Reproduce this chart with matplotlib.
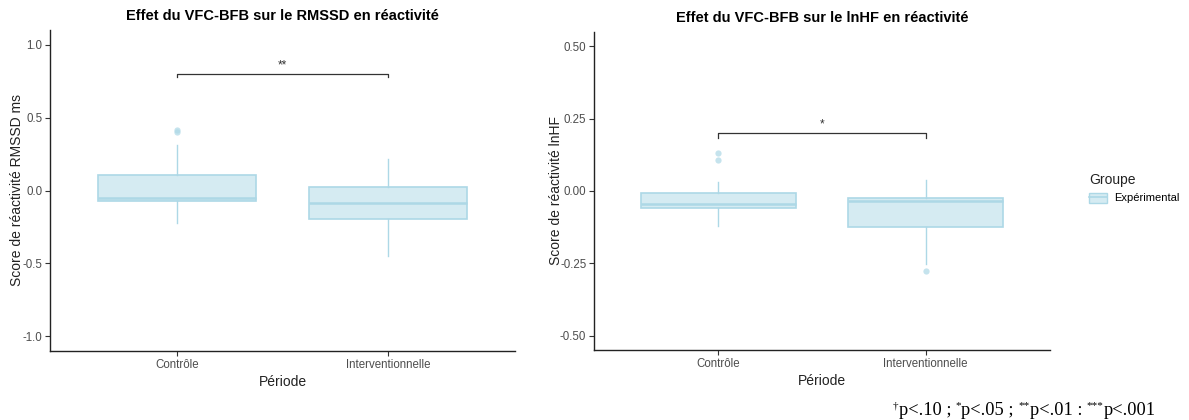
import matplotlib
matplotlib.use("Agg")
import matplotlib.pyplot as plt
from matplotlib.patches import Patch
from matplotlib.lines import Line2D

plt.rcParams['font.family'] = ['Liberation Sans', 'DejaVu Sans']

# ---- data ----
periods = ["Contrôle", "Interventionnelle"]

rmssd_q1 = [-0.075, -0.194]
rmssd_med = [-0.048, -0.087]
rmssd_q3 = [0.107, 0.023]
rmssd_lo = [-0.22, -0.45]
rmssd_hi = [0.315, 0.217]
rmssd_out = [[0.415, 0.40], []]

lnhf_q1 = [-0.058, -0.124]
lnhf_med = [-0.047, -0.034]
lnhf_q3 = [-0.009, -0.024]
lnhf_lo = [-0.121, -0.252]
lnhf_hi = [0.031, 0.037]
lnhf_out = [[0.132, 0.108], [-0.277]]

rmssd_bracket = 0.80
lnhf_bracket = 0.20
rmssd_sig = "**"
lnhf_sig = "*"

fill = '#ADD8E6'
edge = '#ADD8E6'

fig = plt.figure(figsize=(11.89, 4.20), dpi=100)
axL = fig.add_axes([50/1189, 69/420, 465/1189, 321/420])
axR = fig.add_axes([594/1189, 70/420, 456/1189, 318.3/420])


def draw(ax, q1, med, q3, lo, hi, out, ylim, yticks, ytl, title, ylabel, br, sig, tipfrac, lpad):
    stats = []
    for i in range(len(periods)):
        stats.append(dict(med=med[i], q1=q1[i], q3=q3[i], whislo=lo[i], whishi=hi[i], fliers=out[i]))
    ax.bxp(stats, positions=[1, 2], widths=0.75, patch_artist=True, showcaps=False,
           boxprops=dict(facecolor=(0.678, 0.847, 0.902, 0.5), edgecolor=edge, linewidth=1.2),
           medianprops=dict(color=edge, linewidth=1.8),
           whiskerprops=dict(color=edge, linewidth=1.0),
           flierprops=dict(marker='o', markersize=4.5, markerfacecolor=fill, markeredgecolor='none', alpha=0.7))
    ax.set_xlim(0.4, 2.6)
    ax.set_ylim(*ylim)
    ax.set_xticks([1, 2])
    ax.set_xticklabels(periods)
    ax.set_yticks(yticks)
    ax.set_yticklabels(ytl)
    for s in ['top', 'right']:
        ax.spines[s].set_visible(False)
    for s in ['left', 'bottom']:
        ax.spines[s].set_linewidth(1.0)
        ax.spines[s].set_color('#222222')
    ax.tick_params(axis='both', length=3.5, width=0.8, color='#333333', labelcolor='#4d4d4d',
                   labelsize=8.3, pad=2)
    ax.set_title(title, fontsize=10.5, fontweight='bold', pad=7)
    ax.set_xlabel("Période", fontsize=10, color='#222222', labelpad=3)
    ax.set_ylabel(ylabel, fontsize=10, color='#222222', labelpad=lpad)
    tip = (ylim[1] - ylim[0]) * tipfrac
    ax.plot([1, 1, 2, 2], [br - tip, br, br, br - tip], color='#333333', linewidth=0.9)
    ax.text(1.5, br + tip * 0.6, sig, ha='center', va='bottom', fontsize=8.5, color='#333333')


draw(axL, rmssd_q1, rmssd_med, rmssd_q3, rmssd_lo, rmssd_hi, rmssd_out, (-1.1, 1.1),
     [-1.0, -0.5, 0.0, 0.5, 1.0], ["-1.0", "-0.5", "0.0", "0.5", "1.0"],
     "Effet du VFC-BFB sur le RMSSD en réactivité", "Score de réactivité RMSSD ms",
     rmssd_bracket, rmssd_sig, 0.011, -1.0)
draw(axR, lnhf_q1, lnhf_med, lnhf_q3, lnhf_lo, lnhf_hi, lnhf_out, (-0.55, 0.55),
     [-0.5, -0.25, 0.0, 0.25, 0.5], ["-0.50", "-0.25", "0.00", "0.25", "0.50"],
     "Effet du VFC-BFB sur le lnHF en réactivité", "Score de réactivité lnHF",
     lnhf_bracket, lnhf_sig, 0.015, -2.0)

# legend
handle = (Patch(facecolor=(0.678, 0.847, 0.902, 0.5), edgecolor=edge, linewidth=1.0),
          Line2D([], [], color=edge, linewidth=1.2))
leg = fig.legend(handles=[handle], labels=["Expérimental"], title="Groupe", loc='upper left',
                 bbox_to_anchor=(1079/1189, 1 - 163/420), frameon=False, fontsize=8,
                 title_fontsize=10, alignment='left', handlelength=1.6, handleheight=1.0,
                 handletextpad=0.7)
leg.get_title().set_color('#222222')

# footnote with superscripts
pieces = [("†", True), ("p<.10 ; ", False), ("*", True), ("p<.05 ; ", False),
          ("**", True), ("p<.01 : ", False), ("***", True), ("p<.001", False)]
fig.canvas.draw()
renderer = fig.canvas.get_renderer()
x = 893
base = 420 - 415
for txt, sup in pieces:
    t = fig.text(x / 1189, (base + (7 if sup else 0)) / 420, txt,
                 fontsize=8 if sup else 13.2, family='Liberation Serif', color='black',
                 ha='left', va='baseline')
    bb = t.get_window_extent(renderer)
    x += bb.width

fig.savefig("out.png", dpi=100)
